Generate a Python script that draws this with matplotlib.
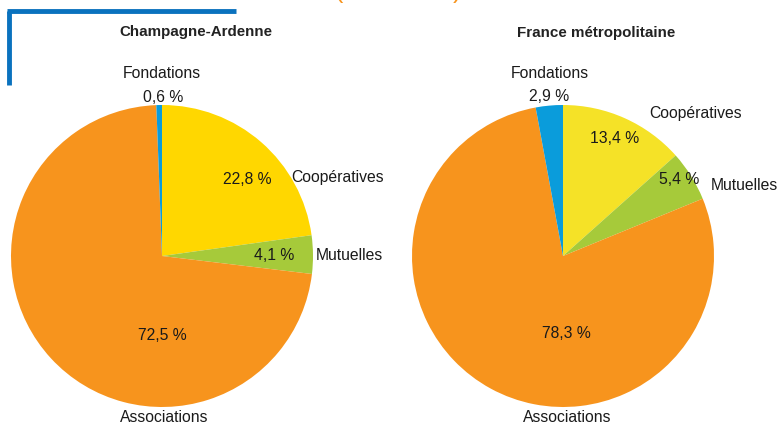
import matplotlib.pyplot as plt
from matplotlib import font_manager

# data (order: clockwise from 12 o'clock)
categories = ["Coopératives", "Mutuelles", "Associations", "Fondations"]
champagne = [22.8, 4.1, 72.5, 0.6]
france = [13.4, 5.4, 78.3, 2.9]
pct_labels_ca = ["22,8 %", "4,1 %", "72,5 %", "0,6 %"]
pct_labels_fr = ["13,4 %", "5,4 %", "78,3 %", "2,9 %"]

col_orange = "#F7941D"
col_green = "#A6CA3A"
col_blue = "#0A9CDB"
colors_ca = ["#FFD700", col_green, col_orange, col_blue]
colors_fr = ["#F5E227", col_green, col_orange, col_blue]

names = [f.name for f in font_manager.fontManager.ttflist]
if "Liberation Sans Narrow" in names:
    fam = ["Liberation Sans Narrow", "DejaVu Sans"]
    fs = 13
else:
    fam = ["Liberation Sans", "DejaVu Sans"]
    fs = 11.3
plt.rcParams['font.family'] = fam

W, H = 779, 428
fig = plt.figure(figsize=(W / 100, H / 100), dpi=100)
ax = fig.add_axes([0, 0, 1, 1])


def Y(py):
    # pixel row -> data y
    return H - py


ax.pie(champagne, colors=colors_ca, startangle=90, counterclock=False,
       center=(162, Y(256)), radius=151, frame=True,
       wedgeprops=dict(linewidth=0))
ax.pie(france, colors=colors_fr, startangle=90, counterclock=False,
       center=(563, Y(256)), radius=151, frame=True,
       wedgeprops=dict(linewidth=0))
ax.set_xlim(0, W)
ax.set_ylim(0, H)
ax.set_aspect('equal')
ax.axis('off')

txt = dict(ha='center', va='center', fontsize=fs, color='#1a1a1a')

# Champagne-Ardenne labels
ax.text(162, Y(73), categories[3], **txt)
ax.text(163, Y(97), pct_labels_ca[3], **txt)
ax.text(247, Y(179), pct_labels_ca[0], **txt)
ax.text(338, Y(177), categories[0], **txt)
ax.text(274, Y(256), pct_labels_ca[1], **txt)
ax.text(349, Y(256), categories[1], **txt)
ax.text(162, Y(336), pct_labels_ca[2], **txt)
ax.text(164, Y(418), categories[2], **txt)

# France metropolitaine labels
ax.text(550, Y(73), categories[3], **txt)
ax.text(549, Y(96), pct_labels_fr[3], **txt)
ax.text(615, Y(138), pct_labels_fr[0], **txt)
ax.text(696, Y(113), categories[0], **txt)
ax.text(679, Y(179), pct_labels_fr[1], **txt)
ax.text(744, Y(185), categories[1], **txt)
ax.text(566, Y(333), pct_labels_fr[2], **txt)
ax.text(567, Y(418), categories[2], **txt)

# titles
ax.text(196, Y(32), "Champagne-Ardenne", ha='center', va='center',
        fontsize=10.9, fontweight='bold', color='#222222',
        family=["Liberation Sans", "DejaVu Sans"])
ax.text(596, Y(33), "France métropolitaine", ha='center', va='center',
        fontsize=10.9, fontweight='bold', color='#222222',
        family=["Liberation Sans", "DejaVu Sans"])

# blue frame corner
ax.plot([9, 9], [Y(85), Y(11)], color='#0A72BE', lw=3.5, solid_capstyle='butt')
ax.plot([7.3, 236], [Y(11), Y(11)], color='#0A72BE', lw=3.5, solid_capstyle='butt')

# orange brackets cut by the top edge
ax.text(339, Y(-9), "(", ha='center', va='center', fontsize=18, color=col_orange)
ax.text(457, Y(-9), ")", ha='center', va='center', fontsize=18, color=col_orange)

fig.savefig("out.png", dpi=100)
